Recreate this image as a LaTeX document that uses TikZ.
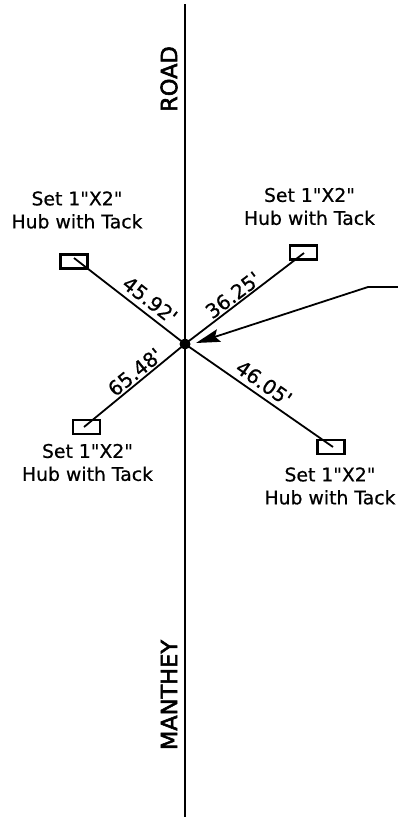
\documentclass[tikz,border=0pt]{standalone}
\usepackage{fontspec}
\setmainfont[Ligatures=TeXOff, FakeBold=0.6]{DejaVu Sans}
\newfontfamily\roadfont[Ligatures=TeXOff, FakeBold=2.5]{DejaVu Sans}
\usetikzlibrary{arrows.meta}
\tikzset{
    hub/.style = {draw, line width = 2.3pt, rectangle, minimum width = 27pt, minimum height = 14pt, inner sep = 0},
    note/.style = {align = center, font = \fontsize{18.8}{23}\selectfont},
    dist/.style = {font = \fontsize{20}{22}\selectfont, inner sep = 0},
    roadname/.style = {rotate = 90, font = \roadfont\fontsize{22.5}{24}\selectfont, inner sep = 0}
}
\begin{document}
\begin{tikzpicture}[x = 1pt, y = -1pt, line width = 1.8pt]
    \useasboundingbox (0, 0) rectangle (398, 817);

    \draw
        (185, 4) coordinate (top)
        (185, 817) coordinate (bottom)
        (185, 344) coordinate (pin)
        (74, 258) coordinate (ea)
        (304, 253) coordinate (eb)
        (84, 427) coordinate (ec)
        (333, 447) coordinate (ed)
        (398, 287) coordinate (lead)
        (368, 287) coordinate (bend)
        (196, 343) coordinate (tip)

        (74, 261.5) node (huba) [hub] {}
        (303.5, 252.5) node (hubb) [hub] {}
        (86.5, 427) node (hubc) [hub] {}
        (331, 447) node (hubd) [hub] {}

        (top) edge (bottom)
        (pin) edge (ea)
        (pin) edge (eb)
        (pin) edge (ec)
        (pin) edge (ed)
    ;

    \draw[-{Stealth[length = 24pt, width = 13pt, inset = 4pt]}] (lead) -- (bend) -- (tip);
    \fill (pin) circle [radius = 5.5pt];

    \node (dista) [dist, rotate = -38] at (150, 300) {45.92'};
    \node (distb) [dist, rotate = 37] at (233, 295) {36.25'};
    \node (distc) [dist, rotate = 39] at (135, 372) {65.48'};
    \node (distd) [dist, rotate = -35] at (264, 383) {46.05'};

    \node (notea) [note] at (77, 210) {Set 1"X2"\\Hub with Tack};
    \node (noteb) [note] at (309.5, 206.5) {Set 1"X2"\\Hub with Tack};
    \node (notec) [note] at (87.5, 462.5) {Set 1"X2"\\Hub with Tack};
    \node (noted) [note] at (330, 486) {Set 1"X2"\\Hub with Tack};

    \node (road) [roadname] at (169, 79) {ROAD};
    \node (manthey) [roadname] at (169, 695) {MANTHEY};
\end{tikzpicture}
\end{document}
